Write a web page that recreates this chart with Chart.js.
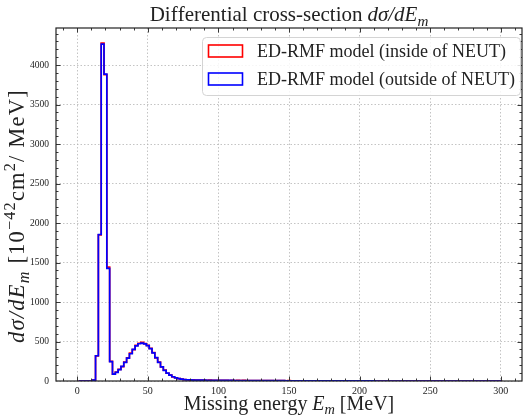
<!DOCTYPE html>
<html>
<head>
<meta charset="utf-8">
<script src="https://cdn.jsdelivr.net/npm/chart.js@4.4.1/dist/chart.umd.min.js"></script>
<style>
  html, body { margin: 0; padding: 0; background: #fff; }
</style>
</head>
<body>
<canvas id="chart" width="531" height="416"></canvas>
<script>
// histogram binning (MeV): left edge of first bin, bin width
const binStart = 1;
const binWidth = 2;

// dsigma/dE_m, 10^-42 cm^2 / MeV, one value per bin
const insideNeut = [
  0, 0, 0, 0, 0, 12, 318, 1850, 4278, 3880,
  1442, 248, 86, 112, 148, 183, 240, 292, 352, 398,
  452, 478, 488, 474, 450, 412, 360, 292, 238, 178,
  137, 98, 76, 53, 41, 29, 24, 17, 16, 12,
  13, 11, 12, 10, 11, 9, 10, 8, 9, 8,
  9, 7, 8, 6, 8, 6, 7, 5, 7, 6,
  6, 5, 6, 4, 6, 5, 5, 4, 5, 3,
  5, 4, 4, 3, 4, 3, 3, 2, 3, 3,
  3, 2, 3, 2, 2, 2, 2, 1, 2, 2,
  2, 1, 2, 1, 1, 1, 1, 1, 1, 0,
  1, 1, 0, 1, 0, 0, 0, 0, 0, 0,
  0, 0, 0, 0, 0, 0, 0, 0, 0, 0,
  0, 0, 0, 0, 0, 0, 0, 0, 0, 0,
  0, 0, 0, 0, 0, 0, 0, 0, 0, 0,
  0, 0, 0, 0, 0, 0, 0, 0, 0, 0
];
const outsideNeut = [
  0, 0, 0, 0, 0, 12, 320, 1855, 4265, 3885,
  1425, 245, 88, 110, 145, 185, 235, 290, 345, 400,
  445, 472, 480, 470, 448, 410, 355, 295, 235, 180,
  135, 100, 74, 54, 40, 30, 23, 18, 15, 13,
  12, 11, 11, 10, 10, 9, 9, 9, 8, 8,
  8, 7, 7, 7, 7, 6, 6, 6, 6, 6,
  5, 5, 5, 5, 5, 5, 4, 4, 4, 4,
  4, 4, 4, 3, 3, 3, 3, 3, 3, 3,
  3, 2, 2, 2, 2, 2, 2, 2, 2, 2,
  2, 2, 2, 1, 1, 1, 1, 1, 1, 1,
  1, 1, 1, 1, 1, 0, 0, 0, 0, 0,
  0, 0, 0, 0, 0, 0, 0, 0, 0, 0,
  0, 0, 0, 0, 0, 0, 0, 0, 0, 0,
  0, 0, 0, 0, 0, 0, 0, 0, 0, 0,
  0, 0, 0, 0, 0, 0, 0, 0, 0, 0
];

const seriesLabels = ['ED-RMF model (inside of NEUT)', 'ED-RMF model (outside of NEUT)'];
const seriesColors = ['#ff0000', '#0000ff'];

const xTicks = [0, 50, 100, 150, 200, 250, 300];
const yTicks = [0, 500, 1000, 1500, 2000, 2500, 3000, 3500, 4000];

const SERIF = '"Liberation Serif", "DejaVu Serif", serif';
const INK = '#222';

// turn bin contents into step-histogram outline points
const toSteps = (values) => {
  const pts = [{ x: binStart, y: 0 }];
  values.forEach((v, i) => pts.push({ x: binStart + i * binWidth, y: v }));
  const end = binStart + values.length * binWidth;
  pts.push({ x: end, y: values[values.length - 1] });
  pts.push({ x: end, y: 0 });
  return pts;
};

// draw text made of pieces: r = roman, i = italic, sub = italic subscript, sup = superscript
const drawRich = (ctx, parts, size, cx, baseline, spacing = 0) => {
  const fontFor = (style) => {
    const s = (style === 'sub' || style === 'sup') ? size * 0.72 : size;
    const it = (style === 'i' || style === 'sub') ? 'italic ' : '';
    return `${it}${s}px ${SERIF}`;
  };
  const widthOf = (t) => ctx.measureText(t).width + spacing * t.length;
  let total = 0;
  parts.forEach(([t, style]) => { ctx.font = fontFor(style); total += widthOf(t); });
  let x = cx - total / 2;
  ctx.textAlign = 'left';
  ctx.textBaseline = 'alphabetic';
  parts.forEach(([t, style]) => {
    ctx.font = fontFor(style);
    let dy = 0;
    if (style === 'sub') dy = size * 0.22;
    if (style === 'sup') dy = -size * 0.42;
    // one glyph at a time so the spacing works without letterSpacing support
    let cx2 = x;
    for (const ch of t) {
      ctx.fillText(ch, cx2, baseline + dy);
      cx2 += ctx.measureText(ch).width + spacing;
    }
    x += widthOf(t);
  });
};

const decorations = {
  id: 'decorations',
  afterDraw(chart) {
    const { ctx, chartArea: a, scales: { x, y } } = chart;
    ctx.save();

    // frame + inward ticks on all four sides
    ctx.strokeStyle = INK;
    ctx.lineWidth = 0.9;
    ctx.beginPath();
    for (let v = -10; v <= 310; v += 10) {
      const px = Math.round(x.getPixelForValue(v)) + 0.5;
      const len = v % 50 === 0 ? 4.5 : 2.5;
      ctx.moveTo(px, a.bottom); ctx.lineTo(px, a.bottom - len);
      ctx.moveTo(px, a.top); ctx.lineTo(px, a.top + len);
    }
    for (let v = 100; v <= 4400; v += 100) {
      const py = Math.round(y.getPixelForValue(v)) + 0.5;
      const len = v % 500 === 0 ? 4.5 : 2.5;
      ctx.moveTo(a.left, py); ctx.lineTo(a.left + len, py);
      ctx.moveTo(a.right, py); ctx.lineTo(a.right - len, py);
    }
    ctx.stroke();
    ctx.lineWidth = 1.2;
    ctx.strokeRect(a.left, a.top, a.right - a.left, a.bottom - a.top);

    ctx.fillStyle = INK;
    // title
    drawRich(ctx, [['Differential cross-section ', 'r'], ['dσ/dE', 'i'], ['m', 'sub']], 21, 289, 21);
    // x label
    drawRich(ctx, [['Missing energy ', 'r'], ['E', 'i'], ['m', 'sub'], [' [MeV]', 'r']], 20, 289, 410);
    // y label
    ctx.save();
    ctx.translate(24, 216);
    ctx.rotate(-Math.PI / 2);
    drawRich(ctx, [['dσ/dE', 'i'], ['m', 'sub'], [' [10', 'r'], ['−42', 'sup'], ['cm', 'r'], ['2', 'sup'], ['/ MeV]', 'r']], 22.5, 0, 0, 1.2);
    ctx.restore();

    // legend
    const bx = 202, by = 37, bw = 318, bh = 58;
    ctx.beginPath();
    ctx.roundRect(bx + 0.5, by + 0.5, bw, bh, 4);
    ctx.fillStyle = 'rgba(255,255,255,0.85)';
    ctx.fill();
    ctx.strokeStyle = '#d4d4d4';
    ctx.lineWidth = 1;
    ctx.stroke();
    seriesLabels.forEach((label, i) => {
      const cy = 51 + i * 28;
      ctx.strokeStyle = seriesColors[i];
      ctx.lineWidth = 1.6;
      ctx.strokeRect(208.5, cy - 6, 34, 12);
      ctx.fillStyle = INK;
      ctx.font = `18px ${SERIF}`;
      ctx.textAlign = 'left';
      ctx.textBaseline = 'middle';
      ctx.fillText(label, 257, cy + 1);
    });
    ctx.restore();
  }
};

new Chart(document.getElementById('chart'), {
  type: 'line',
  data: {
    datasets: [
      { label: seriesLabels[0], data: toSteps(insideNeut), borderColor: seriesColors[0], order: 2 },
      { label: seriesLabels[1], data: toSteps(outsideNeut), borderColor: seriesColors[1], order: 1 }
    ]
  },
  options: {
    responsive: false,
    animation: false,
    devicePixelRatio: 1,
    layout: { padding: { top: 28, right: 9, left: 0, bottom: 0 } },
    elements: {
      line: { stepped: 'before', borderWidth: 1.7, fill: false, tension: 0 },
      point: { radius: 0 }
    },
    plugins: {
      legend: { display: false },
      title: { display: false },
      tooltip: { enabled: false }
    },
    scales: {
      x: {
        type: 'linear',
        min: -15,
        max: 315,
        afterBuildTicks: (s) => { s.ticks = xTicks.map((value) => ({ value })); },
        afterFit: (s) => { s.height = 35; },
        grid: { color: '#b5b5b5', lineWidth: 0.8, drawTicks: false },
        border: { display: false, dash: [1.5, 2] },
        ticks: { padding: 4, color: INK, maxRotation: 0, autoSkip: false, font: { family: SERIF, size: 10 },
          callback: (v) => String(v) }
      },
      y: {
        type: 'linear',
        min: 0,
        max: 4470,
        afterBuildTicks: (s) => { s.ticks = yTicks.map((value) => ({ value })); },
        afterFit: (s) => { s.width = 56; },
        grid: { color: '#b5b5b5', lineWidth: 0.8, drawTicks: false },
        border: { display: false, dash: [1.5, 2] },
        ticks: { padding: 7, color: INK, font: { family: SERIF, size: 9.5 },
          callback: (v) => String(v) }
      }
    }
  },
  plugins: [decorations]
});
</script>
</body>
</html>
